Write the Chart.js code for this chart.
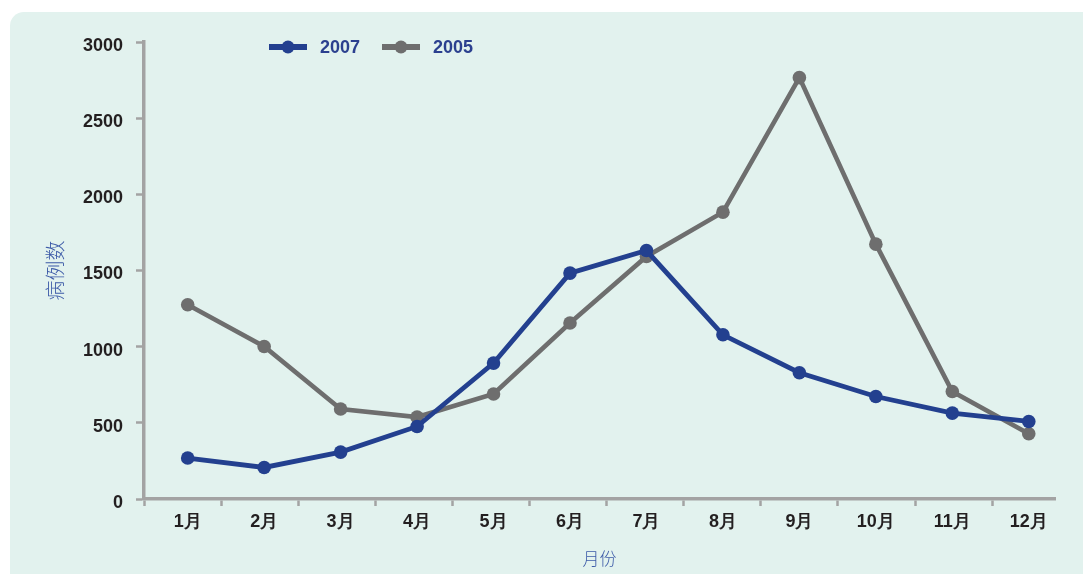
<!DOCTYPE html>
<html>
<head>
<meta charset="utf-8">
<script src="https://cdn.jsdelivr.net/npm/chart.js@4/dist/chart.umd.min.js"></script>
<style>
  html, body { margin: 0; padding: 0; background: #ffffff; overflow: hidden; }
  #wrap { position: relative; width: 1083px; height: 574px; overflow: hidden; }
  #panel { position: absolute; left: 10px; top: 12px; width: 1100px; height: 600px;
           background: #e2f2ee; border-radius: 14px; }
  #c { position: absolute; left: 0; top: 0; }
</style>
</head>
<body>
<div id="wrap">
  <div id="panel"></div>
  <canvas id="c" width="1083" height="574"></canvas>
</div>
<script>
// Monthly case counts
const months = ['1月', '2月', '3月', '4月', '5月', '6月', '7月', '8月', '9月', '10月', '11月', '12月'];
const cases2007 = [269, 207, 308, 476, 892, 1483, 1631, 1078, 829, 673, 564, 509];
const cases2005 = [1275, 1001, 591, 538, 689, 1155, 1592, 1883, 2766, 1673, 706, 428];
const yTickValues = [0, 500, 1000, 1500, 2000, 2500, 3000];

const seriesLabels = ['2007', '2005'];
const blue = '#23408f';
const grey = '#6e6e6e';
const axisColor = '#a3a3a3';
const labelColor = '#231f20';
const titleColor = '#3d5ba8';

const tickFont = { family: "'Liberation Sans Narrow', 'Liberation Sans', Arial, sans-serif", weight: 'bold', size: 18 };
const cjkFont = "'Noto Sans CJK SC', sans-serif";

// x runs on month numbers; the axis starts a little before month 1
const xMin = 0.4285;
const xMax = 12.343;
const boundaryStep = 1.0084;

const toPoints = arr => arr.map((v, i) => ({ x: i + 1, y: v }));

// Legend drawn as line-with-marker keys above the plot
const seriesKey = {
  id: 'seriesKey',
  afterDraw(chart) {
    const { ctx, chartArea } = chart;
    let x = chartArea.left + 125;
    const y = chartArea.top + 5;
    chart.data.datasets.forEach(ds => {
      ctx.save();
      ctx.strokeStyle = ds.borderColor;
      ctx.lineWidth = 6;
      ctx.beginPath();
      ctx.moveTo(x, y);
      ctx.lineTo(x + 38, y);
      ctx.stroke();
      ctx.fillStyle = ds.borderColor;
      ctx.beginPath();
      ctx.arc(x + 19, y, 6.5, 0, Math.PI * 2);
      ctx.fill();
      ctx.font = `${tickFont.weight} ${tickFont.size}px ${tickFont.family}`;
      ctx.fillStyle = '#2b408f';
      ctx.textBaseline = 'middle';
      ctx.textAlign = 'left';
      ctx.fillText(ds.label, x + 51, y + 1);
      ctx.restore();
      x += 113;
    });
  }
};

new Chart(document.getElementById('c'), {
  type: 'line',
  data: {
    datasets: [
      {
        label: seriesLabels[0],
        data: toPoints(cases2007),
        borderColor: blue,
        backgroundColor: blue,
        borderWidth: 4.8,
        pointRadius: 6.8,
        pointBorderWidth: 0,
        pointBackgroundColor: blue,
        tension: 0
      },
      {
        label: seriesLabels[1],
        data: toPoints(cases2005),
        borderColor: grey,
        backgroundColor: grey,
        borderWidth: 4.6,
        pointRadius: 6.8,
        pointBorderWidth: 0,
        pointBackgroundColor: grey,
        tension: 0
      }
    ]
  },
  options: {
    responsive: false,
    animation: false,
    devicePixelRatio: 1,
    layout: { padding: { top: 42, right: 28, bottom: 0, left: 0 } },
    plugins: {
      legend: { display: false },
      tooltip: { enabled: false }
    },
    scales: {
      x: {
        type: 'linear',
        min: xMin,
        max: xMax,
        afterBuildTicks(scale) {
          const vals = [];
          for (let k = 0; k < months.length; k++) vals.push(xMin + k * boundaryStep);
          months.forEach((m, i) => vals.push(i + 1));
          vals.sort((a, b) => a - b);
          scale.ticks = vals.map(v => ({ value: v }));
        },
        afterFit(scale) { scale.height = 75; },
        ticks: {
          autoSkip: false,
          maxRotation: 0,
          minRotation: 0,
          padding: 5,
          color: labelColor,
          font: tickFont,
          callback: v => (Number.isInteger(v) ? months[v - 1] : '')
        },
        grid: {
          drawOnChartArea: false,
          drawTicks: true,
          tickLength: 7,
          tickWidth: 2.5,
          tickColor: ctx => (ctx.tick && Number.isInteger(ctx.tick.value) ? 'rgba(0,0,0,0)' : axisColor)
        },
        border: { color: axisColor, width: 3.5 },
        title: {
          display: true,
          text: '月份',
          color: titleColor,
          font: { family: cjkFont, size: 17, weight: '300' },
          padding: { top: 0, bottom: 5 }
        }
      },
      y: {
        min: 0,
        max: 3000,
        afterBuildTicks(scale) { scale.ticks = yTickValues.map(v => ({ value: v })); },
        afterFit(scale) { scale.width = 144; },
        ticks: {
          color: labelColor,
          font: tickFont,
          padding: 13,
          labelOffset: 4,
          callback: v => String(v)
        },
        grid: {
          drawOnChartArea: false,
          drawTicks: true,
          tickLength: 8,
          tickWidth: 2.5,
          tickColor: axisColor
        },
        border: { color: axisColor, width: 3.5 },
        title: {
          display: true,
          text: '病例数',
          color: titleColor,
          font: { family: cjkFont, size: 20, weight: '300' },
          padding: { top: 43, bottom: 0 }
        }
      }
    }
  },
  plugins: [seriesKey]
});
</script>
</body>
</html>
